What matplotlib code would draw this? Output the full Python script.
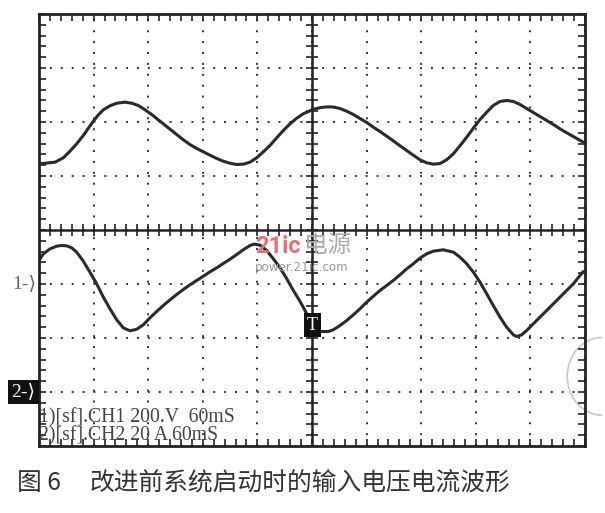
import numpy as np
import matplotlib.pyplot as plt
from matplotlib.ticker import MultipleLocator
from matplotlib.patches import Arc

plt.rcParams['font.family'] = ['Liberation Serif', 'DejaVu Sans']

# time in ms (60 ms/div, 10 div), amplitude in divisions from screen centre
t_ch1 = [1.1, 17.6, 26.7, 34.1, 41.4, 48.7, 54.2, 59.7, 65.2, 70.7, 78.0, 85.4,
         94.5, 101.9, 109.1, 116.5, 123.8, 131.1, 136.6, 144.0, 151.3, 158.6,
         165.9, 173.3, 180.6, 187.9, 195.3, 202.5, 209.9, 217.3, 224.5, 231.9,
         239.2, 246.5, 253.8, 261.2, 268.5, 275.8, 283.2, 290.4, 297.8, 301.4,
         308.8, 316.1, 323.4, 330.8, 338.1, 345.4, 352.7, 360.1, 367.4, 374.7,
         382.1, 389.3, 396.7, 404.1, 411.3, 418.7, 426.0, 433.3, 440.7, 448.0,
         455.3, 462.6, 470.0, 477.3, 484.6, 492.0, 499.2, 506.6, 514.0, 521.2,
         528.6, 535.9, 543.2, 550.5, 557.9, 565.2, 572.5, 579.9, 587.2, 598.1]
ch1 = [1.226, 1.256, 1.337, 1.46, 1.596, 1.75, 1.885, 2.015, 2.133, 2.226, 2.30,
       2.348, 2.367, 2.348, 2.306, 2.226, 2.139, 2.04, 1.966, 1.867, 1.768, 1.67,
       1.583, 1.509, 1.448, 1.385, 1.324, 1.274, 1.237, 1.213, 1.219, 1.256,
       1.337, 1.448, 1.565, 1.707, 1.843, 1.966, 2.07, 2.152, 2.207, 2.235,
       2.265, 2.28, 2.278, 2.25, 2.2, 2.139, 2.065, 1.991, 1.904, 1.824, 1.737,
       1.652, 1.559, 1.472, 1.385, 1.30, 1.244, 1.219, 1.231, 1.30, 1.411,
       1.559, 1.719, 1.885, 2.046, 2.181, 2.306, 2.38, 2.398, 2.38, 2.324, 2.25,
       2.176, 2.102, 2.028, 1.954, 1.874, 1.80, 1.731, 1.626]

t_ch2 = [0.0, 4.8, 12.1, 19.4, 24.9, 30.4, 35.9, 41.4, 48.7, 56.0, 63.4, 70.7,
         78.0, 85.4, 92.6, 100.0, 107.4, 114.6, 122.0, 129.3, 136.6, 144.0,
         151.3, 158.6, 165.9, 173.3, 180.6, 187.9, 195.3, 202.5, 209.9, 217.3,
         224.5, 231.9, 236.3, 242.9, 250.2, 257.5, 264.8, 272.2, 279.5, 286.8,
         292.3, 295.9, 300.5, 304.5, 310.6, 317.9, 323.4, 330.8, 338.1, 345.4,
         352.7, 360.1, 367.4, 374.7, 382.1, 389.3, 396.7, 404.1, 411.3, 418.7,
         426.0, 433.3, 444.3, 455.3, 462.6, 470.0, 477.3, 484.6, 492.0, 499.2,
         506.6, 513.9, 521.2, 524.9, 530.4, 535.9, 543.2, 550.5, 557.9, 565.2,
         572.5, 579.9, 587.2, 594.5, 598.1]
ch2 = [-0.565, -0.441, -0.349, -0.299, -0.287, -0.293, -0.33, -0.41, -0.577,
       -0.781, -0.997, -1.244, -1.46, -1.663, -1.811, -1.867, -1.837, -1.756,
       -1.626, -1.509, -1.398, -1.293, -1.194, -1.102, -1.015, -0.935, -0.855,
       -0.774, -0.70, -0.62, -0.541, -0.454, -0.367, -0.287, -0.262, -0.28,
       -0.38, -0.533, -0.70, -0.90, -1.12, -1.32, -1.49, -1.61, -1.76, -1.86,
       -1.88, -1.88, -1.848, -1.769, -1.676, -1.571, -1.46, -1.337, -1.226,
       -1.12, -1.028, -0.935, -0.83, -0.719, -0.626, -0.52, -0.441, -0.392,
       -0.367, -0.41, -0.503, -0.626, -0.78, -0.966, -1.182, -1.398, -1.614,
       -1.80, -1.941, -1.972, -1.941, -1.861, -1.737, -1.614, -1.491, -1.367,
       -1.244, -1.12, -0.996, -0.843, -0.769]

ch1_marker = -1
ch2_marker = -3
trig_t, trig_y = 300.5, -1.76
info_lines = ["1)[sf].CH1 200.V  60mS", "2)[sf].CH2 20 A 60mS"]
caption_no = "图 6"
caption = "改进前系统启动时的输入电压电流波形"

W, H = 605, 513
fig = plt.figure(figsize=(W / 100, H / 100), dpi=100)
ax = fig.add_axes([39 / W, 67 / H, 546 / W, 432 / H])
ax.set_xlim(0, 600)
ax.set_ylim(-4, 4)

ax.xaxis.set_major_locator(MultipleLocator(60))
ax.yaxis.set_major_locator(MultipleLocator(1))
ax.xaxis.set_minor_locator(MultipleLocator(12))
ax.yaxis.set_minor_locator(MultipleLocator(0.2))
ax.tick_params(which='both', direction='in', length=5, width=1.2, color='#222',
               top=True, right=True, labelbottom=False, labelleft=False)
ax.grid(True, which='major', color='#333', linestyle=(0, (1, 4.6)), linewidth=1.4)
for sp in ax.spines.values():
    sp.set_linewidth(2)
    sp.set_color('#222')

# centre crosshair with its own ticks
ax.axhline(0, color='#222', lw=1.8)
ax.axvline(300, color='#222', lw=1.8)
ax.plot(np.arange(0, 601, 12), np.zeros(51), ls='none', marker='|', ms=8, mew=1.2, color='#222')
ax.plot(np.full(41, 300), np.arange(-4, 4.01, 0.2), ls='none', marker='_', ms=8, mew=1.2, color='#222')

ax.plot(t_ch1, ch1, color='#2a2a2a', lw=2.2, solid_joinstyle='round', solid_capstyle='round')
ax.plot(t_ch2, ch2, color='#2a2a2a', lw=2.2, solid_joinstyle='round', solid_capstyle='round')

yt = ax.get_yaxis_transform()
ax.text(-0.005, ch1_marker, "1-⟩", transform=yt, ha='right', va='center',
        fontsize=14, color='#666', clip_on=False)
ax.text(-0.006, ch2_marker, "2-⟩", transform=yt, ha='right', va='center',
        fontsize=14, color='white', clip_on=False,
        bbox=dict(boxstyle='square,pad=0.18', fc='#111', ec='none'))
ax.text(trig_t, trig_y, "T", ha='center', va='center', fontsize=13, color='white',
        zorder=5, bbox=dict(boxstyle='square,pad=0.18', fc='#111', ec='none'))

ax.text(0.003, -3.47, info_lines[0], ha='left', va='center', fontsize=14.2, color='#444')
ax.text(0.003, -3.81, info_lines[1], ha='left', va='center', fontsize=14.2, color='#444')

# watermark
fig.text(255 / W, 1 - 247 / H, "21ic", fontsize=17, family='Roboto', weight='bold',
         color='#e87070', ha='left', va='center')
fig.text(304 / W, 1 - 246 / H, "电源", fontsize=17, family='Noto Sans CJK SC',
         color='#aaaaaa', ha='left', va='center')
fig.text(255 / W, 1 - 268 / H, "power.21ic.com", fontsize=8.6, family='DejaVu Sans',
         color='#999999', ha='left', va='center')

# faint pencil mark at the right edge
ax.add_patch(Arc((619, -2.71), 77, 1.44, theta1=95, theta2=265, color='#c8c8c8',
                 lw=1.2, clip_on=False))

fig.text(17 / W, 1 - 483 / H, caption_no, fontsize=17.8, family=['Noto Sans CJK SC'],
         color='#333', ha='left', va='center')
fig.text(90 / W, 1 - 483 / H, caption, fontsize=17.8, family=['Noto Sans CJK SC'],
         color='#333', ha='left', va='center')

fig.savefig('out.png', dpi=100, facecolor='white')
